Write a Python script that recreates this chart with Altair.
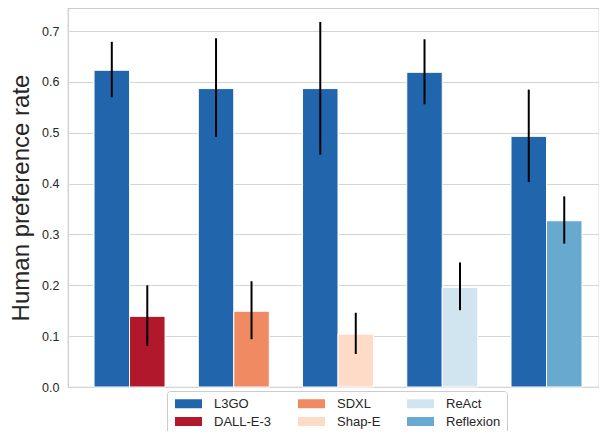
import altair as alt
import pandas as pd

groups = ["G1", "G2", "G3", "G4", "G5"]
baselines = ["DALL-E-3", "SDXL", "Shap-E", "ReAct", "Reflexion"]
l3go_mean = [0.623, 0.587, 0.587, 0.619, 0.493]
l3go_lo = [0.570, 0.492, 0.457, 0.556, 0.403]
l3go_hi = [0.679, 0.686, 0.718, 0.684, 0.585]
base_mean = [0.139, 0.149, 0.104, 0.196, 0.327]
base_lo = [0.081, 0.094, 0.065, 0.151, 0.282]
base_hi = [0.200, 0.208, 0.146, 0.245, 0.375]

legend_order = ["L3GO", "DALL-E-3", "SDXL", "Shap-E", "ReAct", "Reflexion"]
legend_colors = ["#2166ac", "#b2182b", "#ef8a62", "#fddbc7", "#d1e5f0", "#67a9cf"]
y_ticks = [0.0, 0.1, 0.2, 0.3, 0.4, 0.5, 0.6, 0.7]

rows = []
for i, g in enumerate(groups):
    rows.append(dict(group=g, slot=0, model="L3GO", mean=l3go_mean[i], lo=l3go_lo[i], hi=l3go_hi[i]))
    rows.append(dict(group=g, slot=1, model=baselines[i], mean=base_mean[i], lo=base_lo[i], hi=base_hi[i]))
df = pd.DataFrame(rows)

x = alt.X("group:N", axis=None,
          scale=alt.Scale(paddingInner=0.319, paddingOuter=0.2065, align=0.605), sort=groups)
xo = alt.XOffset("slot:N", scale=alt.Scale(paddingInner=0, paddingOuter=0))
y_scale = alt.Scale(domain=[0, 0.7455], nice=False, zero=True)
y_axis = alt.Axis(
    values=y_ticks, format=".1f", title="Human preference rate",
    titleFontSize=24, titleFont="Liberation Sans", titleFontWeight="normal", titleColor="#262626",
    titlePadding=8, labelFontSize=12.5, labelFont="Liberation Sans", labelColor="#262626",
    labelPadding=9, ticks=False, domain=False, grid=True, gridColor="#d5d5d5", gridWidth=1.2,
)

bars = alt.Chart(df).mark_bar(stroke="white", strokeWidth=1).encode(
    x=x, xOffset=xo,
    y=alt.Y("mean:Q", scale=y_scale, axis=y_axis),
    color=alt.Color(
        "model:N",
        scale=alt.Scale(domain=legend_order, range=legend_colors),
        legend=alt.Legend(
            orient="none", legendX=99, legendY=383, columns=3, title=None,
            symbolType="M-3,-1L3,-1L3,1L-3,1Z", symbolSize=81, symbolOffset=9,
            symbolStrokeWidth=0, symbolOpacity=1,
            labelFontSize=13, labelFont="Liberation Sans", labelColor="#262626",
            labelOffset=19, columnPadding=24, rowPadding=4, padding=6,
            strokeColor="#cccccc", fillColor="white", cornerRadius=3,
        ),
    ),
)

err = alt.Chart(df).mark_rule(color="black", strokeWidth=2).encode(
    x=x, xOffset=xo,
    y=alt.Y("lo:Q", scale=y_scale, axis=y_axis),
    y2="hi:Q",
)

chart = alt.layer(bars, err).properties(
    width=531, height=379,
    padding={"left": 60, "top": 0, "right": 0, "bottom": 44},
    autosize=alt.AutoSizeParams(type="none"),
).configure_view(stroke="#cccccc", strokeWidth=1.25)

chart.save("out.html", embed_options={"renderer": "svg", "actions": False})
